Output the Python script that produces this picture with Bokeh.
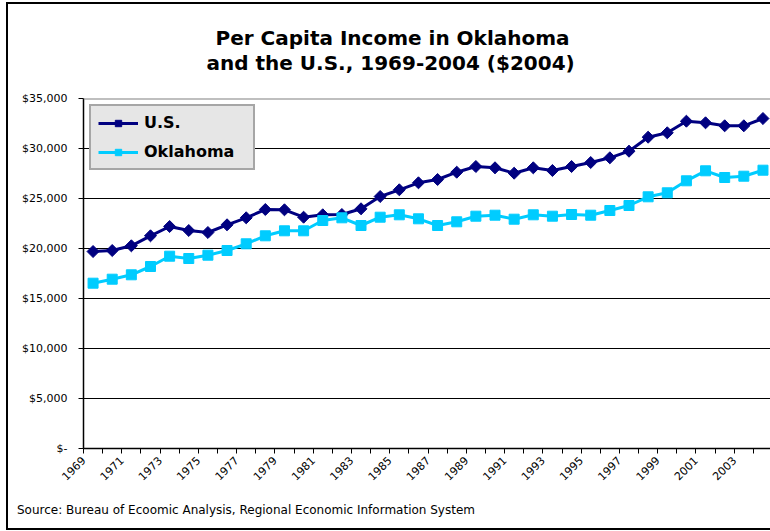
import math
from bokeh.plotting import figure
from bokeh.models import (Range1d, FixedTicker, CustomJSTickFormatter, Title,
                          Legend, LegendItem, Span, InlineStyleSheet)
from bokeh.embed import file_html
from bokeh.resources import INLINE

# ---------------- data ----------------
years = list(range(1969, 2005))
us = [19700, 19800, 20270, 21270, 22200, 21800, 21600, 22370, 23070, 23900,
      23870, 23130, 23370, 23400, 23970, 25200, 25870, 26570,
      26900, 27630, 28200, 28070, 27530, 28070, 27800, 28200, 28600, 29070,
      29730, 31130, 31570, 32730, 32570, 32270, 32270, 33000]
oklahoma = [16530, 16930, 17370, 18200, 19230, 19000, 19330, 19800, 20470, 21270,
            21770, 21770, 22800, 23070, 22300, 23130, 23370, 22970,
            22300, 22670, 23230, 23330, 22930, 23370, 23230, 23400, 23330, 23800,
            24300, 25170, 25570, 26770, 27770, 27100, 27230, 27830]
y_ticks = [0, 5000, 10000, 15000, 20000, 25000, 30000, 35000]
y_labels = ["$-", "$5,000", "$10,000", "$15,000", "$20,000", "$25,000", "$30,000", "$35,000"]
title_lines = ["Per Capita Income in Oklahoma", "and the U.S., 1969-2004 ($2004)"]
source_text = "Source: Bureau of Ecoomic Analysis, Regional Economic Information System"

# ---------------- layout ----------------
W, H = 770, 531
FRAME_L, FRAME_T, FRAME_B = 83, 98, 83
frame_w = W - FRAME_L
px_per_year = 19.14
x_start = years[0] - 0.5
x_end = x_start + frame_w / px_per_year
y_start, y_end = 0, 35000

p = figure(width=W, height=H, output_backend="svg", toolbar_location=None,
           x_range=Range1d(x_start, x_end), y_range=Range1d(y_start, y_end),
           min_border_left=FRAME_L, min_border_right=0,
           min_border_top=FRAME_T, min_border_bottom=FRAME_B,
           title=None)
p.stylesheets = [InlineStyleSheet(css=(
    ":host::after{content:'';position:absolute;left:6px;top:2px;width:764px;"
    "height:528px;box-sizing:border-box;border:2px solid black;border-right:none;"
    "pointer-events:none;}"))]
p.outline_line_color = None
p.background_fill_color = "white"
p.border_fill_color = "white"

# axes
font = "DejaVu Sans"
for ax in (p.xaxis[0], p.yaxis[0]):
    ax.major_label_text_font = font
    ax.major_label_text_font_size = "11px"
    ax.major_label_text_color = "black"
    ax.axis_line_color = "black"
    ax.axis_line_width = 1.5
    ax.major_tick_line_color = "black"
    ax.major_tick_in = 0
    ax.major_tick_out = 5
    ax.minor_tick_line_color = None

p.yaxis.ticker = FixedTicker(ticks=y_ticks)
p.yaxis.major_label_overrides = {t: l for t, l in zip(y_ticks, y_labels)}
p.yaxis.major_label_standoff = 11

boundaries = [y - 0.5 for y in years] + [years[-1] + 0.5]
p.xaxis.ticker = FixedTicker(ticks=boundaries)
p.xaxis.formatter = CustomJSTickFormatter(
    args=dict(first=years[0], last=years[-1]),
    code="""
const y = Math.round(tick + 0.5);
return (y <= last && (y - first) % 2 === 0) ? String(y) : "";
""")
p.xaxis.major_label_orientation = math.pi / 4

p.xgrid.visible = False
p.ygrid.grid_line_color = "black"
p.ygrid.grid_line_width = 1
p.add_layout(Span(location=y_end, dimension="width", line_color="#808080", line_width=2))

# series
navy = "#000080"
cyan = "#00CCFF"
l1 = p.line(years, us, line_color=navy, line_width=3)
s1 = p.scatter(years, us, marker="square", angle=math.pi / 4, size=8.5,
               fill_color=navy, line_color=navy)
l2 = p.line(years, oklahoma, line_color=cyan, line_width=3)
s2 = p.scatter(years, oklahoma, marker="square", size=10,
               fill_color=cyan, line_color=cyan)

legend = Legend(items=[LegendItem(label="U.S.", renderers=[l1, s1]),
                       LegendItem(label="Oklahoma", renderers=[l2, s2])],
                location="top_left")
legend.margin = 6
legend.padding = 7
legend.spacing = 10
legend.glyph_width = 40
legend.glyph_height = 16
legend.label_height = 16
legend.label_width = 102
legend.label_standoff = 6
legend.label_text_font = font
legend.label_text_font_style = "bold"
legend.label_text_font_size = "16px"
legend.label_text_color = "black"
legend.background_fill_color = "#e6e6e6"
legend.background_fill_alpha = 1
legend.border_line_color = "#666666"
legend.border_line_width = 2
p.add_layout(legend)

# title (two lines, nearest line added first) and source note
for line, off, standoff in ((title_lines[1], 123, 47), (title_lines[0], 132, -48)):
    p.add_layout(Title(text=line, align="left", offset=off, standoff=standoff,
                       text_font=font, text_font_style="bold",
                       text_font_size="20px", text_color="black"), "above")
p.add_layout(Title(text=source_text, align="left", offset=16.5 - FRAME_L,
                   standoff=28, text_font=font, text_font_style="normal",
                   text_line_height=2.0,
                   text_font_size="12px", text_color="black"), "below")

open("out.html", "w").write(file_html(p, INLINE))
